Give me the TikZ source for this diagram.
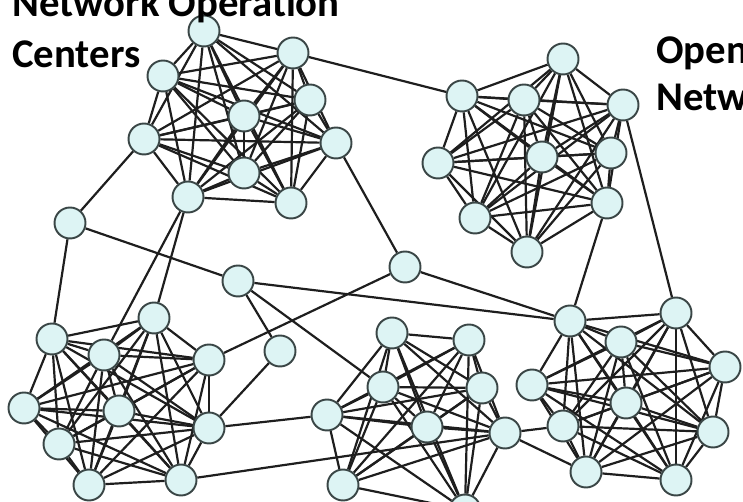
\documentclass[tikz,border=0pt]{standalone}
\usepackage{fontspec}
\setmainfont{Carlito}
\usepackage{xcolor}
\usetikzlibrary{backgrounds}
\definecolor{cFill}{HTML}{DDF4F4}
\definecolor{cRim}{HTML}{3A4646}
\definecolor{cLink}{HTML}{1E1E1E}

\begin{document}
\begin{tikzpicture}[x=0.02cm,y=-0.02cm,
  nd/.style={circle,draw=cRim,fill=cFill,line width=1.1pt,
             minimum size=0.62cm,inner sep=0pt},
  ln/.style={line width=1.25pt,cLink},
  lbl/.style={font=\fontsize{23.2}{26}\selectfont\bfseries,anchor=base west,
              inner sep=0pt}]
\useasboundingbox (0,0) rectangle (743,502);
\clip (0,0) rectangle (743,502);
% top-left cluster
\node[nd] (a1) at (204,31) {};
\node[nd] (a2) at (293,53) {};
\node[nd] (a3) at (163,76) {};
\node[nd] (a4) at (310,100) {};
\node[nd] (a5) at (244,116) {};
\node[nd] (a6) at (144,139) {};
\node[nd] (a7) at (336,143) {};
\node[nd] (a8) at (244,173) {};
\node[nd] (a9) at (188,197) {};
\node[nd] (a10) at (291,203) {};
% top-right cluster
\node[nd] (b1) at (563,59) {};
\node[nd] (b2) at (462,96) {};
\node[nd] (b3) at (524,100) {};
\node[nd] (b4) at (623,105) {};
\node[nd] (b5) at (438,163) {};
\node[nd] (b6) at (542,157) {};
\node[nd] (b7) at (611,153) {};
\node[nd] (b8) at (475,218) {};
\node[nd] (b9) at (607,203) {};
\node[nd] (b10) at (527,252) {};
% bottom-left cluster
\node[nd] (c1) at (52,339) {};
\node[nd] (c2) at (154,318) {};
\node[nd] (c3) at (104,355) {};
\node[nd] (c4) at (209,360) {};
\node[nd] (c5) at (24,408) {};
\node[nd] (c6) at (119,411) {};
\node[nd] (c7) at (209,428) {};
\node[nd] (c8) at (59,444) {};
\node[nd] (c9) at (89,485) {};
\node[nd] (c10) at (181,480) {};
% bottom-middle cluster
\node[nd] (d1) at (392,333) {};
\node[nd] (d2) at (469,340) {};
\node[nd] (d3) at (383,387) {};
\node[nd] (d4) at (482,388) {};
\node[nd] (d5) at (327,415) {};
\node[nd] (d6) at (427,427) {};
\node[nd] (d7) at (505,433) {};
\node[nd] (d8) at (343,485) {};
\node[nd] (d9) at (465,510) {};
% bottom-right cluster
\node[nd] (e1) at (570,321) {};
\node[nd] (e2) at (676,313) {};
\node[nd] (e3) at (621,342) {};
\node[nd] (e4) at (725,367) {};
\node[nd] (e5) at (532,385) {};
\node[nd] (e6) at (626,403) {};
\node[nd] (e7) at (563,426) {};
\node[nd] (e8) at (713,432) {};
\node[nd] (e9) at (586,472) {};
\node[nd] (e10) at (676,480) {};
% single relays
\node[nd] (s1) at (70,223) {};
\node[nd] (s2) at (238,281) {};
\node[nd] (s3) at (405,267) {};
\node[nd] (s4) at (280,351) {};
\begin{scope}[on background layer]
\foreach \c/\n in {a/10,b/10,c/10,d/9,e/10}
  \foreach \i in {1,...,\n}
    \foreach \j in {\i,...,\n}
      {\ifnum\i<\j \draw[ln] (\c\i) -- (\c\j);\fi}
\foreach \u/\v in {a2/b2,a7/s3,a6/s1,s1/c1,s1/s2,a9/c2,a9/c3,s2/s4,s2/e1,
                   s2/d3,s3/c4,s3/e1,b9/e1,b4/e2,s4/c7,c7/d5,c10/d7,
                   d7/e7,d7/e9}
  \draw[ln] (\u) -- (\v);
\end{scope}
\node[lbl] (noc1) at (12,17) {Network Operation};
\node[lbl] (noc2) at (12,68) {Centers};
\node[lbl] (opn1) at (656,64) {Open};
\node[lbl] (opn2) at (656,111) {Netw};
\end{tikzpicture}
\end{document}
